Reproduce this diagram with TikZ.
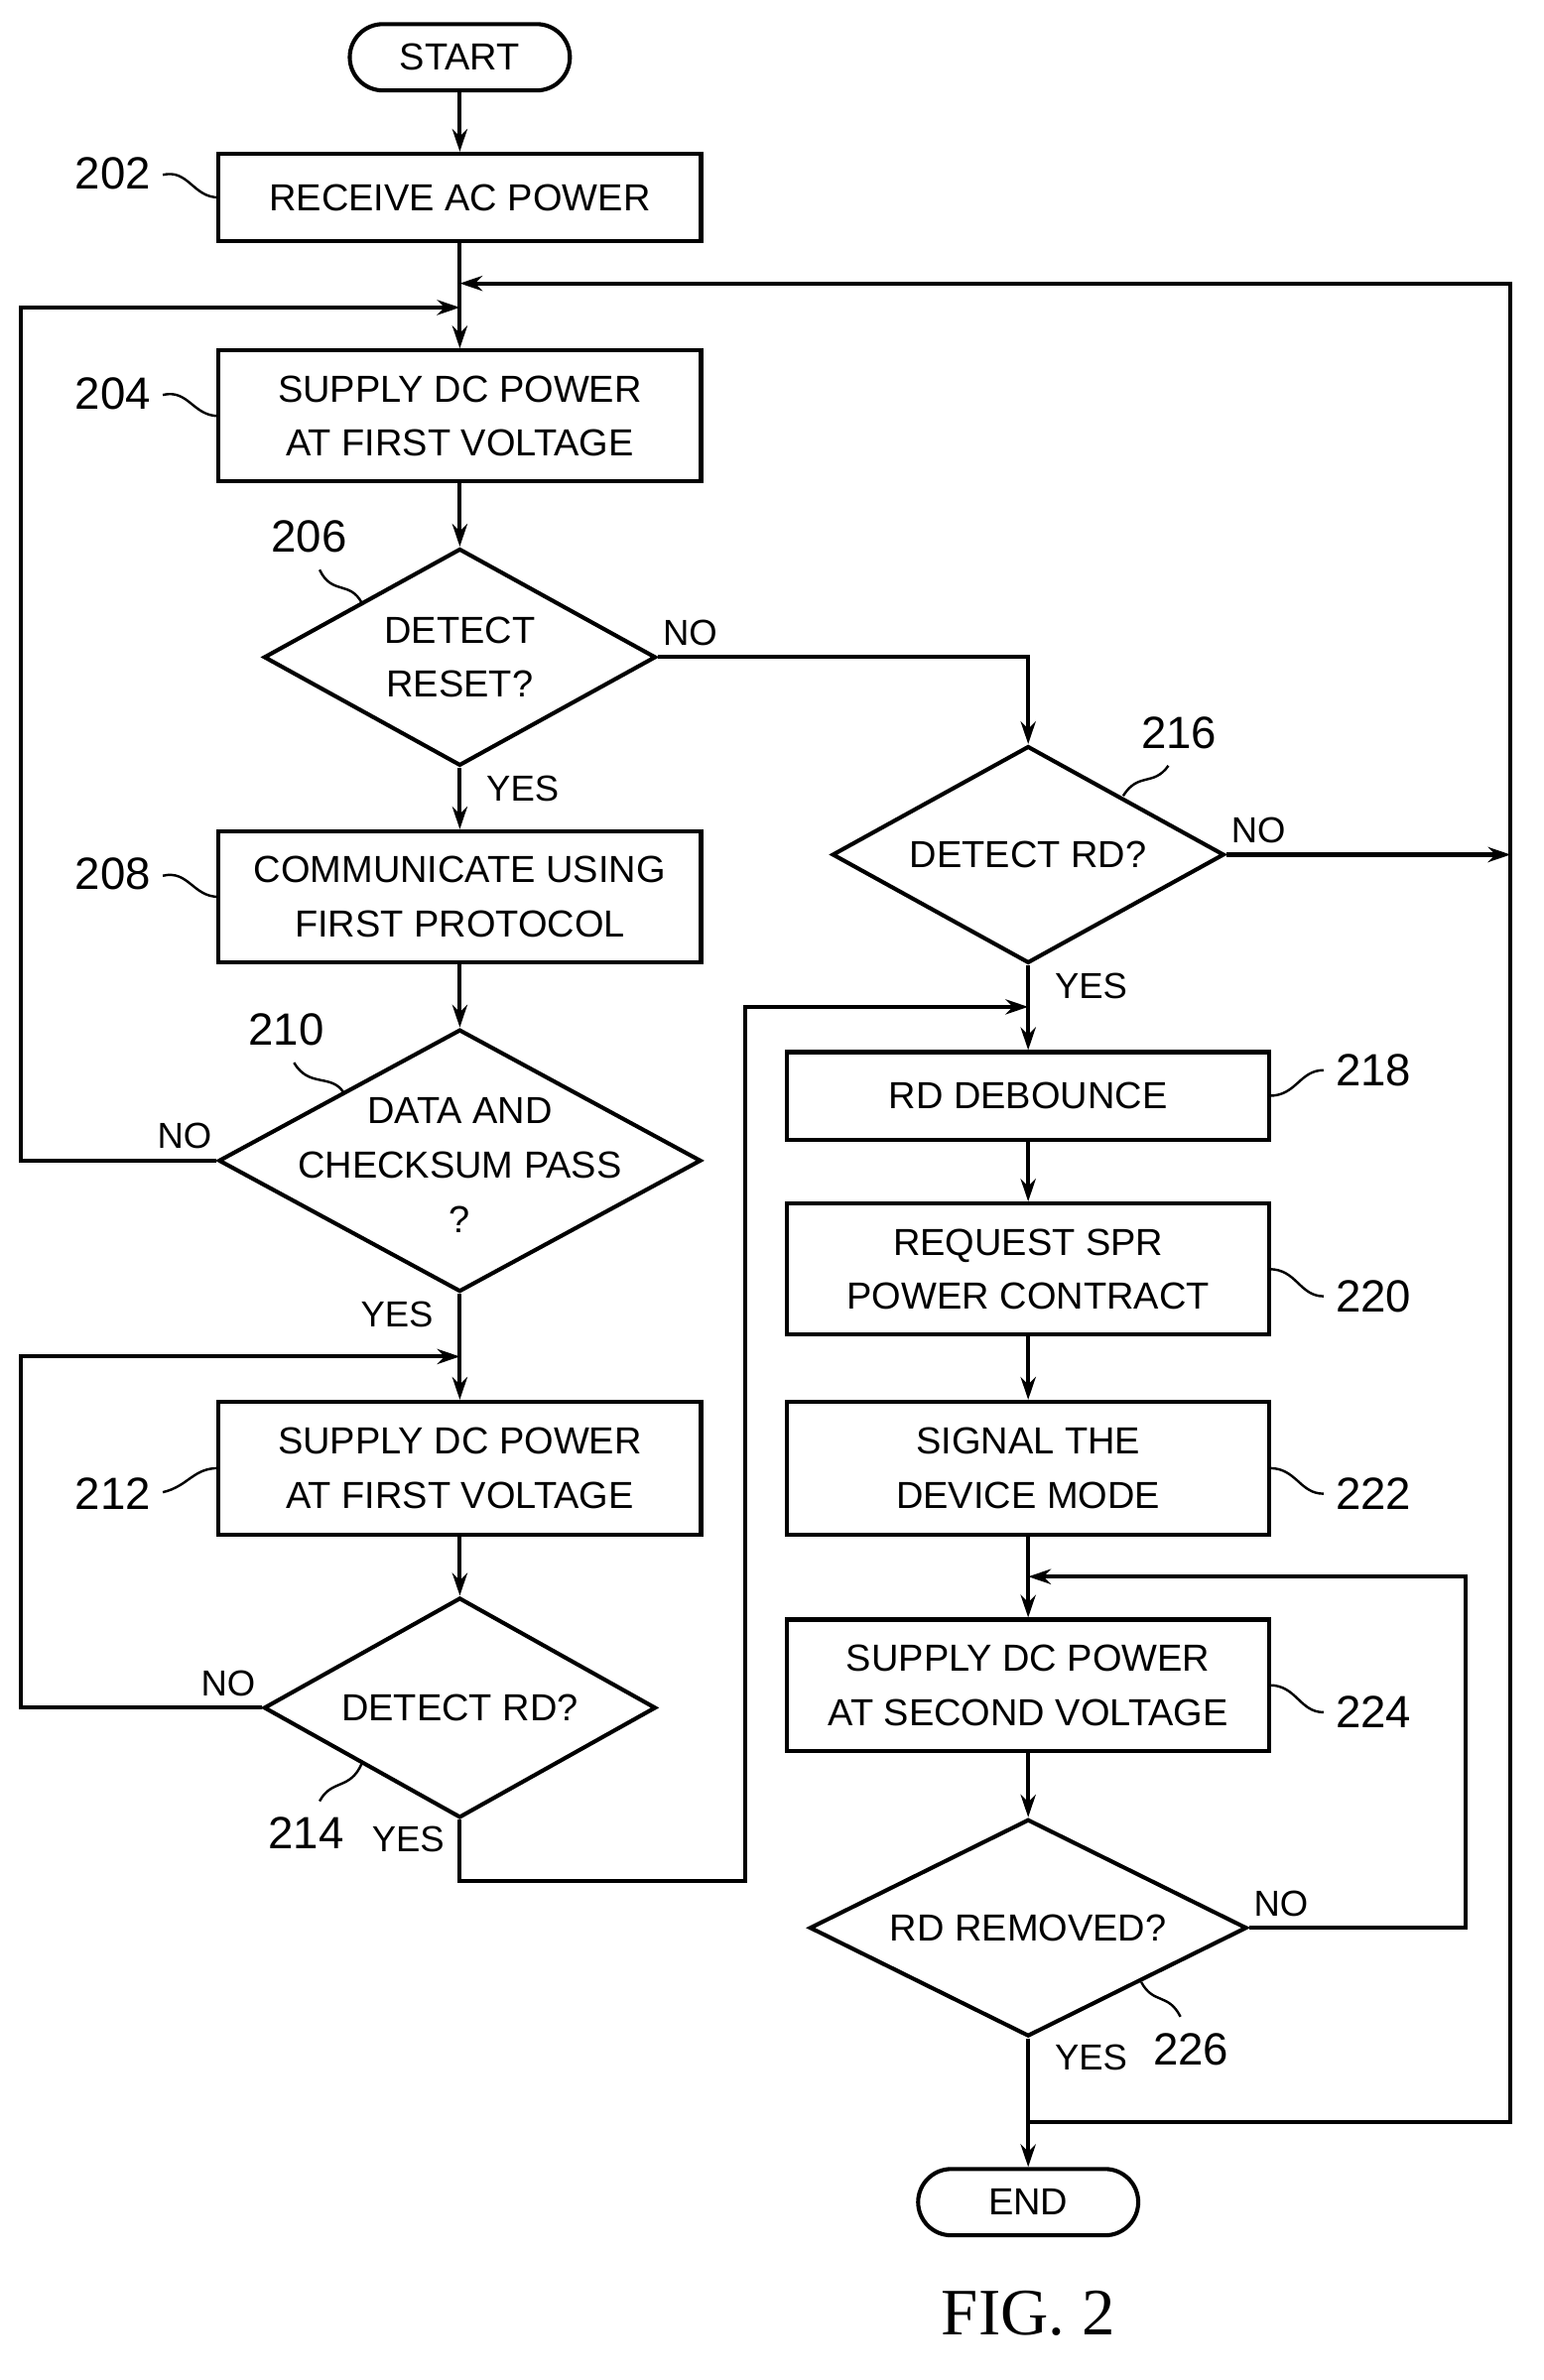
\documentclass[tikz,border=0pt]{standalone}
\usepackage{fontspec}
\setmainfont{Liberation Sans}
\newfontfamily\seriffont{Liberation Serif}
\usetikzlibrary{shapes.geometric,arrows.meta}
\begin{document}
\begin{tikzpicture}[x=1bp,y=-1bp,line width=2.7bp,
 every node/.style={font=\fontsize{25bp}{36bp}\selectfont,align=center},
 box/.style={draw,minimum width=320bp,inner sep=0pt,align=center},
 dia/.style={draw,diamond,inner sep=0pt,align=center},
 arr/.style={-{Stealth[length=15bp,width=10bp]}},
 lab/.style={font=\fontsize{30bp}{34bp}\selectfont},
 yn/.style={font=\fontsize{24bp}{28bp}\selectfont},
 sq/.style={line width=1.6bp}]
\useasboundingbox (0,0) rectangle (1024,1579);
\node[draw,rounded corners=22bp,minimum width=146bp,minimum height=44bp,inner sep=0pt] (start) at (305,38) {START};
\node[box,minimum height=58bp] (b202) at (305,131) {RECEIVE AC POWER};
\node[box,minimum height=87bp] (b204) at (305,276) {SUPPLY DC POWER\\AT FIRST VOLTAGE};
\node[dia,minimum width=260bp,minimum height=144bp] (d206) at (305,436) {};
\node (t206) at (305,436) {DETECT\\RESET?};
\node[box,minimum height=87bp] (b208) at (305,595) {COMMUNICATE USING\\FIRST PROTOCOL};
\node[dia,minimum width=320bp,minimum height=174bp] (d210) at (305,770) {};
\node (t210) at (305,773) {DATA AND\\CHECKSUM PASS\\?};
\node[box,minimum height=88bp] (b212) at (305,974) {SUPPLY DC POWER\\AT FIRST VOLTAGE};
\node[dia,minimum width=260bp,minimum height=146bp] (d214) at (305,1133) {};
\node (t214) at (305,1133) {DETECT RD?};
\node[dia,minimum width=260bp,minimum height=144bp] (d216) at (682,567) {};
\node (t216) at (682,567) {DETECT RD?};
\node[box,minimum height=58bp] (b218) at (682,727) {RD DEBOUNCE};
\node[box,minimum height=87bp] (b220) at (682,842) {REQUEST SPR\\POWER CONTRACT};
\node[box,minimum height=88bp] (b222) at (682,974) {SIGNAL THE\\DEVICE MODE};
\node[box,minimum height=87bp] (b224) at (682,1118) {SUPPLY DC POWER\\AT SECOND VOLTAGE};
\node[dia,minimum width=290bp,minimum height=144bp] (d226) at (682,1279) {};
\node (t226) at (682,1279) {RD REMOVED?};
\node[draw,rounded corners=22bp,minimum width=146bp,minimum height=44bp,inner sep=0pt] (end) at (682,1461) {END};
\node[font=\seriffont\fontsize{44bp}{48bp}\selectfont] (fig) at (682,1535) {FIG. 2};
\coordinate (m1) at (305,188); \coordinate (m2) at (305,204);
\coordinate (m3) at (305,900); \coordinate (m4) at (682,668);
\coordinate (m5) at (682,1046); \coordinate (m6) at (682,1408);
\draw[arr] (start) -- (b202);
\draw[arr] (b202) -- (b204);
\draw[arr] (b204) -- (d206);
\draw[arr] (d206) -- (b208);
\draw[arr] (b208) -- (d210);
\draw[arr] (d210) -- (b212);
\draw[arr] (b212) -- (d214);
\draw[arr] (d210.west) -- (14,770) -- (14,204) -- (m2);
\draw[arr] (d214.west) -- (14,1133) -- (14,900) -- (m3);
\draw[arr] (d206.east) -- (682,436) -- (d216.north);
\draw[arr] (d216) -- (b218);
\draw[arr] (d214.south) -- (305,1248) -- (494,1248) -- (494,668) -- (m4);
\draw[arr] (b218) -- (b220);
\draw[arr] (b220) -- (b222);
\draw[arr] (b222) -- (b224);
\draw[arr] (b224) -- (d226);
\draw[arr] (d226.east) -- (972,1279) -- (972,1046) -- (m5);
\draw[arr] (d226.south) -- (end);
\draw[arr] (m6) -- (1002,1408) -- (1002,188) -- (m1);
\draw[arr] (d216.east) -- (1002,567);
\node[yn,anchor=south west] at (435,433) {NO};
\node[yn,anchor=west] at (318,523) {YES};
\node[yn,anchor=south east] at (145,767) {NO};
\node[yn,anchor=east] at (292,872) {YES};
\node[yn,anchor=south east] at (174,1130) {NO};
\node[yn,anchor=west] at (242,1220) {YES};
\node[yn,anchor=south west] at (812,564) {NO};
\node[yn,anchor=west] at (695,654) {YES};
\node[yn,anchor=south west] at (827,1276) {NO};
\node[yn,anchor=west] at (695,1365) {YES};
\node[lab] (l202) at (75,115) {202};
\draw[sq] (108,116) .. controls (125,112) and (128,131) .. (145,131);
\node[lab] (l204) at (75,261) {204};
\draw[sq] (108,262) .. controls (125,258) and (128,276) .. (145,276);
\node[lab] (l208) at (75,580) {208};
\draw[sq] (108,581) .. controls (125,577) and (128,595) .. (145,595);
\node[lab] (l212) at (75,991) {212};
\draw[sq] (108,990) .. controls (125,986) and (128,974) .. (145,974);
\node[lab] (l206) at (205,356) {206};
\draw[sq] (212,378) .. controls (220,395) and (232,385) .. (240,400);
\node[lab] (l210) at (190,683) {210};
\draw[sq] (195,705) .. controls (205,722) and (220,712) .. (228,725);
\node[lab] (l214) at (203,1216) {214};
\draw[sq] (212,1195) .. controls (220,1180) and (232,1188) .. (240,1170);
\node[lab] (l216) at (782,486) {216};
\draw[sq] (775,508) .. controls (765,522) and (755,512) .. (745,528);
\node[lab] (l218) at (911,710) {218};
\draw[sq] (842,727) .. controls (860,727) and (862,710) .. (878,710);
\node[lab] (l220) at (911,860) {220};
\draw[sq] (842,842) .. controls (860,842) and (862,860) .. (878,860);
\node[lab] (l222) at (911,991) {222};
\draw[sq] (842,974) .. controls (860,974) and (862,991) .. (878,991);
\node[lab] (l224) at (911,1136) {224};
\draw[sq] (842,1118) .. controls (860,1118) and (862,1136) .. (878,1136);
\node[lab] (l226) at (790,1360) {226};
\draw[sq] (757,1315) .. controls (765,1330) and (775,1322) .. (783,1338);
\end{tikzpicture}
\end{document}
